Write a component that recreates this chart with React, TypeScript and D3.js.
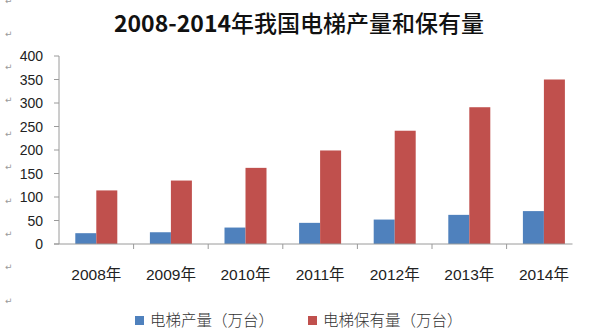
import React from "react";
import * as d3 from "d3";

const years = ["2008年", "2009年", "2010年", "2011年", "2012年", "2013年", "2014年"];
const production = [23, 25, 35, 45, 52, 62, 70];
const holdings = [114, 135, 162, 199, 241, 291, 350];
const seriesNames = ["电梯产量（万台）", "电梯保有量（万台）"];
const seriesColors = ["#4F81BD", "#C0504D"];
const yTicks = [0, 50, 100, 150, 200, 250, 300, 350, 400];
const returnMarkRows = [0, 33, 66, 99, 133, 166, 200, 233, 266, 300];

const W = 590;
const H = 329;

export default function App() {
  const axisX = 59;
  const plotRight = 59 + 7 * 74.6;
  const y = d3.scaleLinear().domain([0, 400]).range([244, 56]);
  const x = d3
    .scaleBand<string>()
    .domain(years)
    .range([axisX, plotRight])
    .paddingInner(0.437)
    .paddingOuter(0.2185);
  const sub = d3.scaleBand<number>().domain([0, 1]).range([0, x.bandwidth()]);
  const step = x.step();
  const series = [production, holdings];

  return (
    <svg
      width={W}
      height={H}
      style={{ position: "absolute", left: 0, top: 0, background: "#fff" }}
    >
      {/* paragraph marks */}
      {returnMarkRows.map((ry, i) => (
        <text key={i} x={5} y={ry + 3.5} fontSize={9} fill="#9a9a9a" fontFamily="DejaVu Sans">
          ↵
        </text>
      ))}

      {/* title */}
      <text
        x={299}
        y={32}
        textAnchor="middle"
        fontSize={23}
        fill="#111"
        fontFamily="'Noto Sans CJK SC', sans-serif"
      >
        <tspan fontWeight="bold">2008-2014</tspan>
        <tspan fontWeight={500}>年我国电梯产量和保有量</tspan>
      </text>

      {/* y axis */}
      <line x1={axisX} x2={axisX} y1={y(400)} y2={y(0)} stroke="#9a9a9a" strokeWidth={1} />
      {yTicks.map((t) => (
        <g key={t}>
          <line x1={axisX - 5} x2={axisX} y1={y(t)} y2={y(t)} stroke="#9a9a9a" />
          <text
            x={43}
            y={y(t) + 5}
            textAnchor="end"
            fontSize={14}
            fill="#222"
            fontFamily="'Liberation Sans', Arial, sans-serif"
          >
            {t}
          </text>
        </g>
      ))}

      {/* bars */}
      {years.map((yr, i) => (
        <g key={yr}>
          {series.map((vals, s) => (
            <rect
              key={s}
              x={(x(yr) as number) + (sub(s) as number)}
              y={y(vals[i])}
              width={sub.bandwidth()}
              height={y(0) - y(vals[i])}
              fill={seriesColors[s]}
            />
          ))}
        </g>
      ))}

      {/* x axis */}
      <line x1={axisX - 5} x2={572.5} y1={y(0)} y2={y(0)} stroke="#9a9a9a" />
      {years.slice(1).map((yr, i) => (
        <line
          key={yr}
          x1={axisX + (i + 1) * step}
          x2={axisX + (i + 1) * step}
          y1={y(0)}
          y2={y(0) + 5}
          stroke="#9a9a9a"
        />
      ))}
      {years.map((yr) => (
        <text
          key={yr}
          x={(x(yr) as number) + x.bandwidth() / 2}
          y={280}
          textAnchor="middle"
          fontSize={15.5}
          fill="#222"
          fontFamily="'Liberation Sans', 'Noto Sans CJK SC', sans-serif"
        >
          {yr}
        </text>
      ))}

      {/* legend */}
      {seriesNames.map((name, s) => {
        const lx = [135, 308][s];
        return (
          <g key={name}>
            <rect x={lx} y={316} width={9} height={9} fill={seriesColors[s]} />
            <text
              x={lx + 15}
              y={326}
              fontSize={15.5}
              fill="#333"
              fontFamily="'Noto Sans CJK SC', sans-serif"
              fontWeight={300}
            >
              {name}
            </text>
          </g>
        );
      })}
    </svg>
  );
}
